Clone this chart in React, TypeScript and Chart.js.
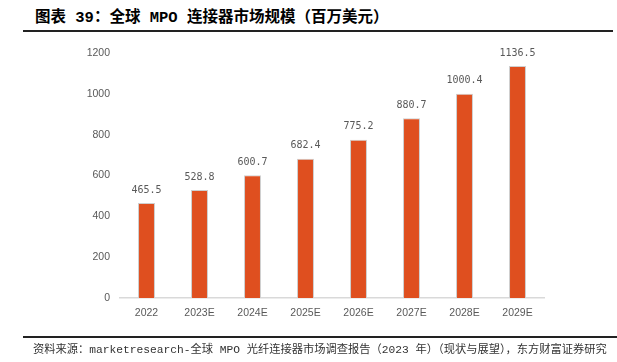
import React, { useEffect, useRef } from "react";
import { Chart, registerables } from "chart.js";

Chart.register(...registerables);

const categories = ["2022", "2023E", "2024E", "2025E", "2026E", "2027E", "2028E", "2029E"];
const values = [465.5, 528.8, 600.7, 682.4, 775.2, 880.7, 1000.4, 1136.5];
const valueLabels = ["465.5", "528.8", "600.7", "682.4", "775.2", "880.7", "1000.4", "1136.5"];
const yMin = 0;
const yMax = 1200;
const yStep = 200;

const titleText = "图表 39：全球 MPO 连接器市场规模（百万美元）";
const sourceText = "资料来源：marketresearch-全球 MPO 光纤连接器市场调查报告（2023 年）（现状与展望），东方财富证券研究";

const valueLabelPlugin = {
  id: "valueLabels",
  afterDatasetsDraw(chart: any) {
    const ctx = chart.ctx;
    const meta = chart.getDatasetMeta(0);
    ctx.save();
    ctx.font = '10px "DejaVu Sans Mono", "Liberation Mono", monospace';
    ctx.fillStyle = "#595959";
    ctx.textAlign = "center";
    ctx.textBaseline = "middle";
    meta.data.forEach((bar: any, i: number) => {
      ctx.fillText(valueLabels[i], bar.x, bar.y - 13);
    });
    ctx.restore();
  },
};

export default function App() {
  const ref = useRef<HTMLCanvasElement>(null);
  useEffect(() => {
    document.body.style.margin = "0";
    const chart = new Chart(ref.current!, {
      type: "bar",
      data: {
        labels: categories,
        datasets: [
          {
            data: values,
            backgroundColor: "#DF4F1F",
            borderColor: "#cfcfcf",
            borderWidth: 1,
            categoryPercentage: 1,
            barPercentage: 0.32,
          },
        ],
      },
      options: {
        responsive: false,
        animation: false,
        events: [],
        layout: { padding: { left: 0, right: 73, top: 53, bottom: 34 } },
        plugins: { legend: { display: false }, tooltip: { enabled: false } },
        scales: {
          x: {
            grid: { display: false, drawTicks: false },
            border: { display: true, color: "#d9d9d9", width: 1.5 },
            ticks: {
              padding: 9,
              color: "#595959",
              font: { family: '"Liberation Sans", Arial, sans-serif', size: 10.5 },
              maxRotation: 0,
            },
            afterFit: (s: any) => {
              s.height = 30;
            },
          },
          y: {
            min: yMin,
            max: yMax,
            grid: { display: false, drawTicks: false },
            border: { display: false },
            ticks: {
              stepSize: yStep,
              padding: 10,
              color: "#595959",
              font: { family: '"Liberation Sans", Arial, sans-serif', size: 10.5 },
              callback: (v: any) => String(v),
            },
            afterFit: (s: any) => {
              s.width = 120;
            },
          },
        },
      },
      plugins: [valueLabelPlugin],
    });
    return () => chart.destroy();
  }, []);

  return (
    <div style={{ position: "relative", width: 617, height: 362, background: "#fff", overflow: "hidden" }}>
      <div
        style={{
          position: "absolute",
          left: 35,
          top: 7,
          fontFamily: '"Liberation Mono", "Noto Sans CJK SC", sans-serif',
          fontWeight: "bold",
          fontSize: 15.5,
          lineHeight: "22px",
          color: "#000",
          whiteSpace: "nowrap",
        }}
      >
        {titleText}
      </div>
      <div style={{ position: "absolute", left: 23, top: 30, width: 590, height: 1.5, background: "#222" }} />
      <canvas ref={ref} width={617} height={362} style={{ position: "absolute", left: 0, top: 0 }} />
      <div style={{ position: "absolute", left: 23, top: 336, width: 594, height: 1.5, background: "#222" }} />
      <div
        style={{
          position: "absolute",
          left: 33,
          top: 341,
          fontFamily: '"Liberation Mono", "Noto Sans CJK SC", sans-serif',
          fontSize: 11.25,
          lineHeight: "18px",
          color: "#333",
          whiteSpace: "nowrap",
        }}
      >
        {sourceText}
      </div>
    </div>
  );
}
